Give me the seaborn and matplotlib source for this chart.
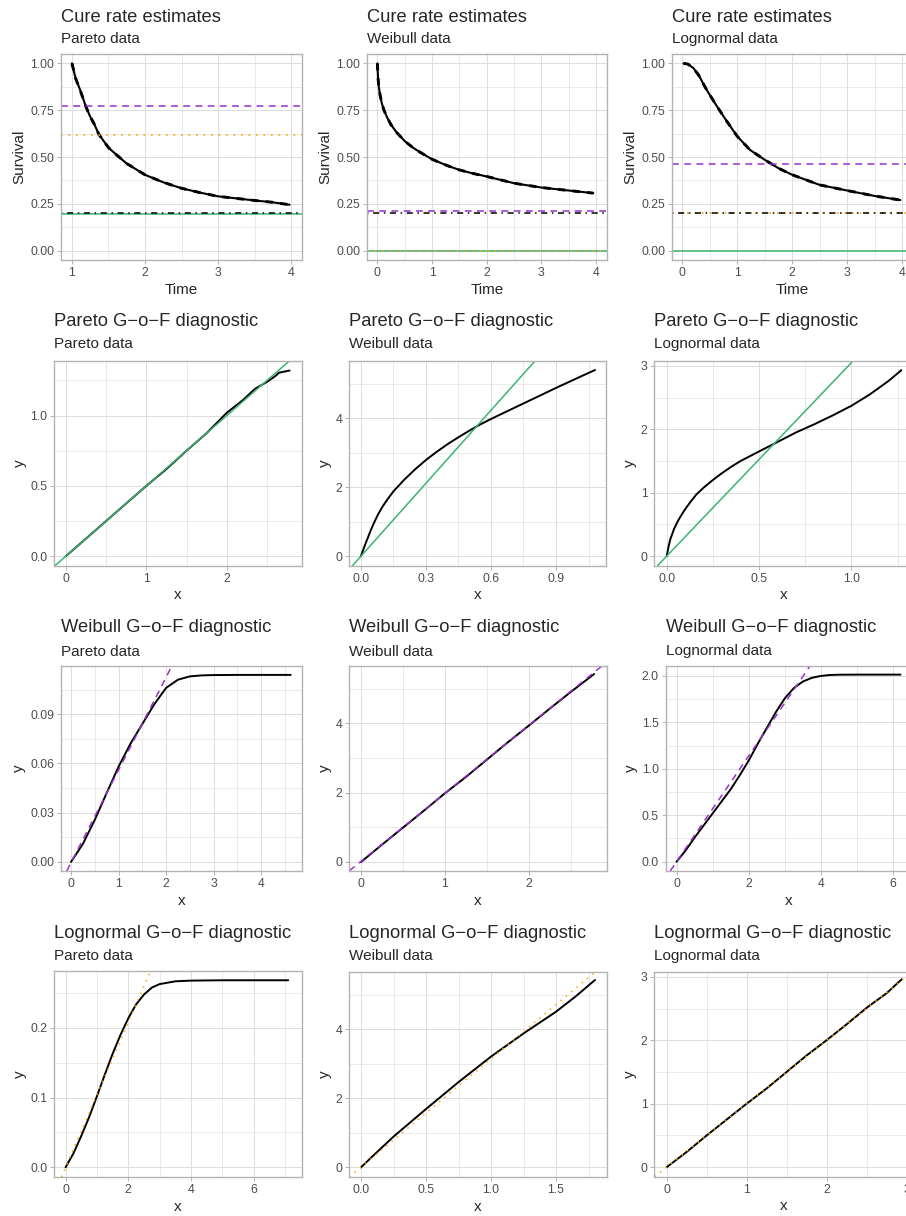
import numpy as np
import matplotlib
matplotlib.use("Agg")
import matplotlib.pyplot as plt
import seaborn as sns

# ---- data ----
titles = ["Cure rate estimates", "Pareto G\u2212o\u2212F diagnostic",
          "Weibull G\u2212o\u2212F diagnostic", "Lognormal G\u2212o\u2212F diagnostic"]
subtitles = ["Pareto data", "Weibull data", "Lognormal data"]

# row 1: survival curves
surv_pareto_t = [1.0, 1.05, 1.11, 1.19, 1.25, 1.3, 1.37, 1.5, 1.6, 1.75, 2.0, 2.25, 2.5, 2.75, 3.0, 3.25, 3.5, 3.75, 3.98]
surv_pareto_s = [1.0, 0.92, 0.86, 0.77, 0.715, 0.68, 0.62, 0.55, 0.515, 0.465, 0.405, 0.365, 0.333, 0.31, 0.29, 0.279, 0.268, 0.258, 0.245]
surv_weib_t = [0.0, 0.01, 0.025, 0.05, 0.08, 0.12, 0.18, 0.25, 0.35, 0.5, 0.65, 0.8, 1.0, 1.25, 1.5, 1.75, 2.0, 2.5, 3.0, 3.5, 3.95]
surv_weib_s = [1.0, 0.93, 0.877, 0.83, 0.788, 0.75, 0.71, 0.672, 0.632, 0.585, 0.55, 0.522, 0.488, 0.457, 0.431, 0.412, 0.396, 0.36, 0.337, 0.321, 0.307]
surv_logn_t = [0.02, 0.1, 0.2, 0.3, 0.44, 0.63, 0.81, 1.0, 1.23, 1.5, 1.75, 2.0, 2.5, 3.0, 3.5, 3.97]
surv_logn_s = [1.0, 0.996, 0.975, 0.935, 0.859, 0.77, 0.69, 0.61, 0.538, 0.485, 0.44, 0.405, 0.351, 0.321, 0.292, 0.27]

# cure rate estimates per data set
cure_purple = [0.77, 0.21, 0.46]
cure_orange = [0.62, 0.0, 0.20]
cure_dotdash = [0.20, 0.20, 0.20]
cure_green = [0.196, 0.0, 0.0]

# row 2: Pareto G-o-F
par_x = [[0, 0.25, 0.5, 0.75, 1.0, 1.25, 1.5, 1.75, 2.0, 2.2, 2.35, 2.5, 2.6, 2.65, 2.78],
         [0, 0.01, 0.02, 0.03, 0.045, 0.06, 0.08, 0.1, 0.125, 0.15, 0.2, 0.25, 0.3, 0.35, 0.4,
          0.45, 0.5, 0.55, 0.6, 0.7, 0.8, 0.9, 1.0, 1.08],
         [0, 0.01, 0.02, 0.04, 0.06, 0.08, 0.1, 0.13, 0.16, 0.2, 0.25, 0.3, 0.35, 0.4, 0.5,
          0.6, 0.7, 0.8, 0.9, 1.0, 1.1, 1.2, 1.27]]
par_y = [[0, 0.125, 0.25, 0.375, 0.5, 0.62, 0.75, 0.875, 1.02, 1.11, 1.19, 1.24, 1.28, 1.305, 1.32],
         [0, 0.17, 0.34, 0.5, 0.74, 0.96, 1.22, 1.44, 1.67, 1.88, 2.22, 2.52, 2.79, 3.03, 3.25,
          3.45, 3.64, 3.82, 3.98, 4.28, 4.58, 4.88, 5.17, 5.4],
         [0, 0.15, 0.27, 0.43, 0.55, 0.65, 0.74, 0.86, 0.97, 1.08, 1.2, 1.31, 1.41, 1.5, 1.65,
          1.8, 1.95, 2.08, 2.22, 2.37, 2.55, 2.76, 2.93]]
par_slope = [0.5, 7.05, 3.05]
par_icept = [0.0, 0.0, 0.0]

# row 3: Weibull G-o-F
wei_x = [[0, 0.25, 0.5, 0.75, 1.0, 1.25, 1.5, 1.75, 2.0, 2.25, 2.5, 2.75, 3.0, 3.5, 4.0, 4.62],
         [0, 0.25, 0.5, 0.75, 1.0, 1.25, 1.5, 1.75, 2.0, 2.25, 2.5, 2.78],
         [0, 0.25, 0.5, 0.75, 1.0, 1.25, 1.5, 1.75, 2.0, 2.25, 2.5, 2.75, 3.0, 3.25, 3.5,
          3.75, 4.0, 4.25, 4.5, 5.0, 6.2]]
wei_y = [[0, 0.011, 0.0256, 0.042, 0.058, 0.072, 0.084, 0.096, 0.106, 0.111, 0.113, 0.1136, 0.1138, 0.1139, 0.1139, 0.1139],
         [0, 0.5, 0.99, 1.48, 1.98, 2.45, 2.95, 3.45, 3.93, 4.42, 4.9, 5.42],
         [0, 0.12, 0.26, 0.39, 0.52, 0.65, 0.78, 0.93, 1.09, 1.27, 1.44, 1.61, 1.76, 1.87, 1.94,
          1.98, 2.0, 2.01, 2.013, 2.014, 2.014]]
wei_slope = [0.0565, 1.96, 0.57]
wei_icept = [-0.0005, 0.02, 0.0]

# row 4: Lognormal G-o-F
lgn_x = [[0, 0.25, 0.5, 0.75, 1.0, 1.25, 1.5, 1.75, 2.0, 2.25, 2.5, 2.75, 3.0, 3.5, 4.0, 5.0, 7.1],
         [0, 0.1, 0.25, 0.5, 0.75, 1.0, 1.25, 1.5, 1.65, 1.8],
         [0, 0.25, 0.5, 0.75, 1.0, 1.25, 1.5, 1.75, 2.0, 2.25, 2.5, 2.75, 2.94]]
lgn_y = [[0, 0.02, 0.045, 0.072, 0.102, 0.133, 0.163, 0.19, 0.214, 0.234, 0.248, 0.258, 0.263, 0.267, 0.268, 0.2685, 0.2685],
         [0, 0.36, 0.89, 1.69, 2.47, 3.21, 3.88, 4.51, 4.95, 5.43],
         [0, 0.24, 0.5, 0.75, 1.0, 1.24, 1.5, 1.76, 2.0, 2.25, 2.51, 2.74, 2.96]]
lgn_slope = [0.104, 3.14, 1.0]
lgn_icept = [0.0, 0.006, 0.0]

# tick labels per panel (row-major)
xtick_labels = [["1", "2", "3", "4"], ["0", "1", "2", "3", "4"], ["0", "1", "2", "3", "4"],
                ["0", "1", "2"], ["0.0", "0.3", "0.6", "0.9"], ["0.0", "0.5", "1.0"],
                ["0", "1", "2", "3", "4"], ["0", "1", "2"], ["0", "2", "4", "6"],
                ["0", "2", "4", "6"], ["0.0", "0.5", "1.0", "1.5"], ["0", "1", "2", "3"]]
ytick_labels = [["0.00", "0.25", "0.50", "0.75", "1.00"]] * 3 + \
               [["0.0", "0.5", "1.0"], ["0", "2", "4"], ["0", "1", "2", "3"],
                ["0.00", "0.03", "0.06", "0.09"], ["0", "2", "4"], ["0.0", "0.5", "1.0", "1.5", "2.0"],
                ["0.0", "0.1", "0.2"], ["0", "2", "4"], ["0", "1", "2", "3"]]

# ---- layout (pixels) ----
W, H = 906, 1216
boxes = [(61, 54, 302, 260), (367, 54, 607, 260), (672, 54, 913, 260),
         (54.3, 360.7, 301.7, 565.7), (349.3, 361, 606.3, 565.7), (654.3, 360.7, 913, 565.7),
         (61, 665.7, 301.7, 871), (349.3, 665.7, 606.7, 871), (665.7, 665.7, 912, 871),
         (54.3, 971, 301.7, 1177), (349.3, 971.7, 606.7, 1177), (654.3, 971.7, 913.7, 1176.7)]
xlims = [(0.85, 4.15), (-0.19, 4.2), (-0.19, 4.2),
         (-0.142, 2.93), (-0.053, 1.132), (-0.067, 1.333),
         (-0.21, 4.85), (-0.14, 2.93), (-0.3, 6.52),
         (-0.36, 7.53), (-0.09, 1.89), (-0.155, 3.09)]
ylims = [(-0.05, 1.05)] * 3 + [(-0.067, 1.39), (-0.27, 5.66), (-0.15, 3.08),
                               (-0.0055, 0.1195), (-0.26, 5.66), (-0.1, 2.11),
                               (-0.0139, 0.2818), (-0.28, 5.67), (-0.15, 3.08)]
title_base = [21.5, 326, 632.3, 937.5]
sub_base = [43, 348.5, 655.5, 960]

sns.set_theme(style="whitegrid")
plt.rcParams['font.family'] = ['Liberation Sans', 'DejaVu Sans']

PURPLE = "#9932CC"
ORANGE = "#FFA500"
GREEN = "#3CB371"
GRID = "#DEDEDE"
BORDER = "#B3B3B3"

fig = plt.figure(figsize=(W / 100, H / 100), dpi=100)


def minor_ticks(major, lim):
    step = major[1] - major[0]
    pts = [major[0] - step / 2] + [m + step / 2 for m in major]
    return [p for p in pts if lim[0] <= p <= lim[1]]


axes = []
for i, (l, t, r, b) in enumerate(boxes):
    ax = fig.add_axes([l / W, 1 - b / H, (r - l) / W, (b - t) / H])
    ax.set_facecolor("white")
    ax.set_xlim(*xlims[i])
    ax.set_ylim(*ylims[i])
    xt = [float(s) for s in xtick_labels[i]]
    yt = [float(s) for s in ytick_labels[i]]
    ax.set_xticks(xt, xtick_labels[i])
    ax.set_yticks(yt, ytick_labels[i])
    ax.set_xticks(minor_ticks(xt, xlims[i]), minor=True)
    ax.set_yticks(minor_ticks(yt, ylims[i]), minor=True)
    ax.grid(which="major", color=GRID, lw=0.75)
    ax.grid(which="minor", color=GRID, lw=0.45)
    ax.set_axisbelow(True)
    ax.tick_params(which="major", direction="out", length=2.75, width=0.7, color=BORDER,
                   labelcolor="#4D4D4D", labelsize=8.8, pad=2.2, bottom=True, left=True)
    ax.tick_params(which="minor", length=0, bottom=False, left=False)
    for sp in ax.spines.values():
        sp.set_color(BORDER)
        sp.set_linewidth(1.0)
    row = i // 3
    col = i % 3
    fig.text(l / W, 1 - title_base[row] / H, titles[row], fontsize=13.2, va="baseline", ha="left")
    fig.text(l / W, 1 - sub_base[row] / H, subtitles[col], fontsize=11, va="baseline", ha="left")
    axes.append(ax)

# row 1: survival with cure-rate lines
surv = [(surv_pareto_t, surv_pareto_s), (surv_weib_t, surv_weib_s), (surv_logn_t, surv_logn_s)]
for c in range(3):
    ax = axes[c]
    t, s = surv[c]
    sns.lineplot(x=t, y=s, ax=ax, color="black", lw=1.5)
    sns.lineplot(x=t, y=s, ax=ax, color="black", lw=2.1, linestyle=(0, (2.5, 2.5)))
    ax.axhline(cure_green[c], color=GREEN, lw=1.1)
    ax.axhline(cure_orange[c], color=ORANGE, lw=1.2, linestyle=(0, (1, 3.5)))
    ax.axhline(cure_dotdash[c], color="black", lw=1.1, linestyle=(0, (1, 3, 4, 3)))
    ax.axhline(cure_purple[c], color=PURPLE, lw=1.1, linestyle=(0, (4.5, 3.5)))
    ax.set_xlabel("Time", fontsize=11, labelpad=2.75)
    ax.set_ylabel("Survival", fontsize=11, labelpad=2.75)

# rows 2-4: diagnostic curves with reference lines
diag = [(par_x, par_y, par_slope, par_icept, GREEN, "-"),
        (wei_x, wei_y, wei_slope, wei_icept, PURPLE, (0, (4.5, 3.5))),
        (lgn_x, lgn_y, lgn_slope, lgn_icept, ORANGE, (0, (1, 3.5)))]
for r, (xs, ys, slopes, icepts, colr, ls) in enumerate(diag):
    for c in range(3):
        ax = axes[3 + 3 * r + c]
        sns.lineplot(x=xs[c], y=ys[c], ax=ax, color="black", lw=1.4)
        ax.axline((0, icepts[c]), slope=slopes[c], color=colr, lw=1.1, linestyle=ls)
        ax.set_xlabel("x", fontsize=11, labelpad=2.75)
        ax.set_ylabel("y", fontsize=11, labelpad=2.75)

fig.savefig("out.png", dpi=100)
